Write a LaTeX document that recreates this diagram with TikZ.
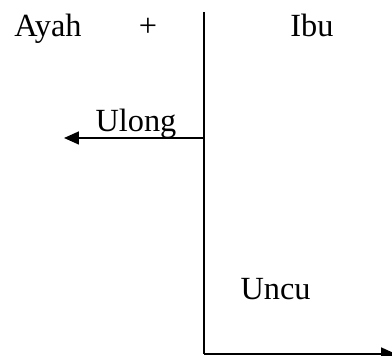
\documentclass[tikz,border=0pt]{standalone}
\usepackage{fontspec}
\setmainfont{Liberation Serif}
\usepackage{tikz}
\usetikzlibrary{positioning}
\usetikzlibrary{arrows.meta}

\begin{document}
\begin{tikzpicture}[line width=1.2pt, >={Triangle[length=0.37cm,width=0.32cm]},
  every node/.style={font=\fontsize{23}{27}\selectfont, inner sep=0pt, anchor=base}]
\useasboundingbox (0,0) rectangle (9.8,8.9);
\node (a) at (1.2,7.975) {Ayah};
\node (p) at (3.7,7.975) {+};
\node (b) at (7.8,7.975) {Ibu};
\node (c) at (3.4,5.61) {Ulong};
\node (d) at (6.89,1.4) {Uncu};
\coordinate (top) at (5.1,8.6);
\coordinate (mid) at (5.1,5.45);
\coordinate (bot) at (5.1,0.05);
\coordinate (left) at (1.6,5.45);
\coordinate (right) at (9.9,0.05);
%\draw (0,0) rectangle (9.8,8.9);
\draw (top) -- (bot);
\draw[->] (mid) -- (left);
\draw[->] (bot) -- (right);
\end{tikzpicture}
\end{document}
